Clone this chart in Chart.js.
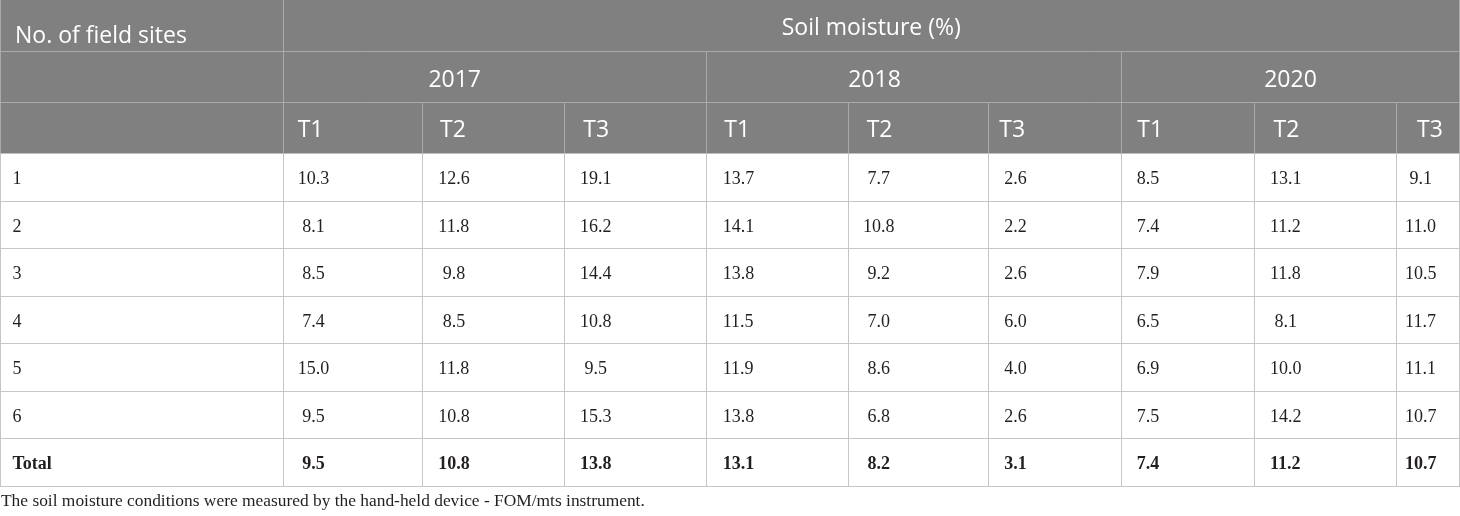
<!DOCTYPE html>
<html>
<head>
<meta charset="utf-8">
<script src="https://cdn.jsdelivr.net/npm/chart.js@4.4.1/dist/chart.umd.min.js"></script>
<style>
  html, body { margin: 0; padding: 0; background: #ffffff; }
  #wrap { width: 1460px; height: 516px; }
</style>
</head>
<body>
<div id="wrap"><canvas id="c" width="1460" height="516"></canvas></div>
<script>
// ---------- DATA ----------
const firstColLabel = 'No. of field sites';
const groupTitle = 'Soil moisture (%)';
const years = ['2017', '2018', '2020'];
const treatments = ['T1', 'T2', 'T3'];
const siteLabels = ['1', '2', '3', '4', '5', '6', 'Total'];

const m2017T1 = [10.3, 8.1, 8.5, 7.4, 15.0, 9.5, 9.5];
const m2017T2 = [12.6, 11.8, 9.8, 8.5, 11.8, 10.8, 10.8];
const m2017T3 = [19.1, 16.2, 14.4, 10.8, 9.5, 15.3, 13.8];
const m2018T1 = [13.7, 14.1, 13.8, 11.5, 11.9, 13.8, 13.1];
const m2018T2 = [7.7, 10.8, 9.2, 7.0, 8.6, 6.8, 8.2];
const m2018T3 = [2.6, 2.2, 2.6, 6.0, 4.0, 2.6, 3.1];
const m2020T1 = [8.5, 7.4, 7.9, 6.5, 6.9, 7.5, 7.4];
const m2020T2 = [13.1, 11.2, 11.8, 8.1, 10.0, 14.2, 11.2];
const m2020T3 = [9.1, 11.0, 10.5, 11.7, 11.1, 10.7, 10.7];

const footnote = 'The soil moisture conditions were measured by the hand-held device - FOM/mts instrument.';

// ---------- LAYOUT (pixel units of the hidden linear scales) ----------
const series = [m2017T1, m2017T2, m2017T3, m2018T1, m2018T2, m2018T3, m2020T1, m2020T2, m2020T3];
const colEdges = [0.5, 283, 422.7, 564.3, 706.7, 848.7, 988.7, 1121.7, 1254.3, 1396.7, 1459.5];
const headerRowEdges = [0.5, 51.7, 102.7, 153.5];
const dataRowTop = 153.5, dataRowH = 47.5;
const yearSpanCols = [[1, 4], [4, 7], [7, 10]];
const yearTextCenters = [454.7, 874.5, 1290.5];
const headerTextPad = [15, 14.7, 17.3, 19, 17.6, 18, 10.6, 15.6, 19.3, 20.3];
const dataTextPad = [12, 14.7, 15.6, 15.7, 16, 14.2, 15.6, 15, 15.7, 8.4];

const HEADER_BG = '#808080';
const HEADER_LINE = '#a9a9a9';
const BODY_LINE = '#c6c6c6';
const TEXT = '#231f20';
const SANS = '"Open Sans", "Noto Sans", sans-serif';
const SERIF = '"Liberation Serif", "DejaVu Serif", serif';

// build datasets: one point per cell, positioned by the scales
const datasets = series.map((vals, c) => ({
  label: years[Math.floor(c / 3)] + ' ' + treatments[c % 3],
  data: vals.map((v, r) => ({ x: colEdges[c + 1], y: dataRowTop + r * dataRowH, v: v })),
  pointRadius: 0,
  showLine: false
}));

const tablePlugin = {
  id: 'tablePlugin',
  afterDatasetsDraw(chart) {
    const ctx = chart.ctx;
    const xs = chart.scales.x, ys = chart.scales.y;
    const X = v => xs.getPixelForValue(v);
    const Y = v => ys.getPixelForValue(v);
    const crisp = p => Math.round(p - 0.5) + 0.5;
    const nRows = siteLabels.length;
    const bottom = dataRowTop + nRows * dataRowH;

    ctx.save();
    // header background
    ctx.fillStyle = HEADER_BG;
    ctx.fillRect(X(0), Y(0), X(colEdges[10]) - X(0), Y(headerRowEdges[3]) - Y(0));

    // body grid
    ctx.strokeStyle = BODY_LINE;
    ctx.lineWidth = 1;
    ctx.beginPath();
    for (let r = 1; r <= nRows; r++) {
      const y = crisp(Y(dataRowTop + r * dataRowH));
      ctx.moveTo(X(colEdges[0]) - 0.5, y); ctx.lineTo(X(colEdges[10]) + 0.5, y);
    }
    colEdges.forEach(e => {
      const x = crisp(X(e));
      ctx.moveTo(x, Y(dataRowTop)); ctx.lineTo(x, Y(bottom));
    });
    ctx.stroke();

    // header grid
    ctx.strokeStyle = HEADER_LINE;
    ctx.beginPath();
    [headerRowEdges[1], headerRowEdges[2]].forEach(e => {
      const y = crisp(Y(e));
      ctx.moveTo(X(colEdges[0]), y); ctx.lineTo(X(colEdges[10]), y);
    });
    let x = crisp(X(colEdges[1]));
    ctx.moveTo(x, Y(0)); ctx.lineTo(x, Y(headerRowEdges[3]));
    x = crisp(X(colEdges[0]));
    ctx.moveTo(x, Y(0)); ctx.lineTo(x, Y(headerRowEdges[3]));
    x = crisp(X(colEdges[10]));
    ctx.moveTo(x, Y(0)); ctx.lineTo(x, Y(headerRowEdges[3]));
    yearSpanCols.forEach(([a]) => {
      const xx = crisp(X(colEdges[a]));
      ctx.moveTo(xx, Y(headerRowEdges[1])); ctx.lineTo(xx, Y(headerRowEdges[3]));
    });
    for (let c = 2; c < 10; c++) {
      const xx = crisp(X(colEdges[c]));
      ctx.moveTo(xx, Y(headerRowEdges[2])); ctx.lineTo(xx, Y(headerRowEdges[3]));
    }
    ctx.stroke();

    // header text
    ctx.fillStyle = '#ffffff';
    ctx.font = '23px ' + SANS;
    ctx.textBaseline = 'alphabetic';
    ctx.textAlign = 'left';
    ctx.fillText(firstColLabel, X(colEdges[0]) + headerTextPad[0] - 0.5, Y(43.3));
    ctx.textAlign = 'center';
    ctx.fillText(groupTitle, (X(colEdges[1]) + X(colEdges[10])) / 2, Y(35));
    years.forEach((yr, i) => ctx.fillText(yr, X(yearTextCenters[i]), Y(86.6)));
    ctx.textAlign = 'left';
    for (let c = 0; c < 9; c++) {
      ctx.fillText(treatments[c % 3], X(colEdges[c + 1]) + headerTextPad[c + 1], Y(137.3));
    }

    // body text
    ctx.fillStyle = TEXT;
    siteLabels.forEach((lab, r) => {
      const bold = r === nRows - 1;
      ctx.font = (bold ? 'bold ' : '') + '18px ' + SERIF;
      ctx.fillText(lab, X(colEdges[0]) + dataTextPad[0], Y(dataRowTop + r * dataRowH + 30.8));
    });
    chart.data.datasets.forEach((ds, c) => {
      const meta = chart.getDatasetMeta(c);
      const colHasTwoDigit = ds.data.some(p => p.v >= 10);
      meta.data.forEach((pt, r) => {
        const d = ds.data[r];
        const bold = r === nRows - 1;
        ctx.font = (bold ? 'bold ' : '') + '18px ' + SERIF;
        const indent = (colHasTwoDigit && d.v < 10) ? ctx.measureText(' ').width : 0;
        const left = X(colEdges[c + 1]);
        ctx.fillText(d.v.toFixed(1), left + dataTextPad[c + 1] + indent, pt.y + 30.8);
      });
    });

    // footnote
    ctx.font = '17.4px ' + SERIF;
    ctx.fillStyle = TEXT;
    ctx.fillText(footnote, X(1), Y(505.5));
    ctx.restore();
  }
};

new Chart(document.getElementById('c'), {
  type: 'scatter',
  data: { datasets },
  options: {
    responsive: false,
    animation: false,
    devicePixelRatio: 1,
    layout: { padding: 0 },
    plugins: { legend: { display: false }, tooltip: { enabled: false } },
    scales: {
      x: { type: 'linear', min: 0, max: 1460, display: false },
      y: { type: 'linear', min: 0, max: 516, reverse: true, display: false }
    }
  },
  plugins: [tablePlugin]
});
</script>
</body>
</html>
